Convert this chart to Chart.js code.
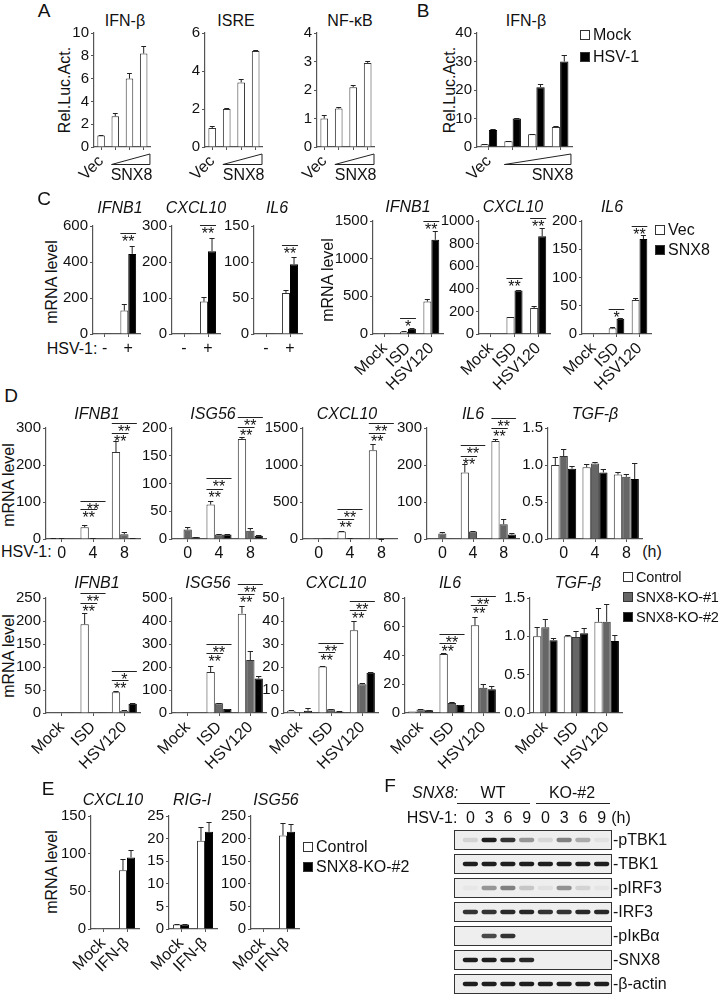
<!DOCTYPE html>
<html>
<head>
<meta charset="utf-8">
<title>SNX8 figure</title>
<script src="https://cdn.jsdelivr.net/npm/chart.js@4.4.1/dist/chart.umd.min.js"></script>
<style>
  body { margin: 0; background: #fff; }
  #fig { position: relative; width: 726px; height: 995px; overflow: hidden;
         font-family: 'Liberation Sans', Arial, sans-serif; color: #111; }
  #fig canvas { position: absolute; }
  .lbl { position: absolute; white-space: nowrap; line-height: 1; }
  .key { position: absolute; width: 10px; height: 10px; box-sizing: border-box; border: 1px solid #333; }
  .rule { position: absolute; height: 0; border-top: 1px solid #222; }
  .blot { position: absolute; box-sizing: border-box; border: 1px solid #333; background: #eeeeee; overflow: hidden; }
  .blot canvas { left: 0; top: 0; filter: blur(0.6px); }
</style>
</head>
<body>
<div id="fig"></div>
<script>
// ---------- data ----------
// A: luciferase, increasing SNX8
const doseLabels = ['Vec', '', '', ''];
const aIfnb = [1.0, 2.7, 6.0, 8.2];
const aIfnbErr = [0.05, 0.25, 0.45, 0.65];
const aIsre = [1.0, 2.0, 3.4, 5.05];
const aIsreErr = [0.08, 0.03, 0.2, 0.06];
const aNfkb = [1.0, 1.35, 2.1, 2.95];
const aNfkbErr = [0.12, 0.04, 0.06, 0.06];

// B: IFN-beta reporter, mock vs HSV-1
const bMock = [1, 2, 4.5, 7];
const bMockErr = [0.1, 0.1, 0.1, 0.3];
const bHsv = [6, 10, 21, 30];
const bHsvErr = [0.2, 0.2, 1.0, 2.4];

// C: qPCR, Vec vs SNX8
const hsvLabels = ['-', '+'];
const stimLabels = ['Mock', 'ISD', 'HSV120'];
const cIfnbVec = [1, 130], cIfnbVecErr = [0, 35];
const cIfnbSnx = [2, 445], cIfnbSnxErr = [0, 45];
const cCxclVec = [1, 90], cCxclVecErr = [0, 12];
const cCxclSnx = [1, 230], cCxclSnxErr = [0, 38];
const cIl6Vec = [1, 57], cIl6VecErr = [0, 4];
const cIl6Snx = [1, 97], cIl6SnxErr = [0, 10];
const cStimIfnbVec = [2, 30, 430], cStimIfnbVecErr = [0, 6, 40];
const cStimIfnbSnx = [3, 70, 1250], cStimIfnbSnxErr = [0, 6, 120];
const cStimCxclVec = [3, 150, 230], cStimCxclVecErr = [0, 3, 15];
const cStimCxclSnx = [5, 385, 865], cStimCxclSnxErr = [0, 8, 70];
const cStimIl6Vec = [1, 10, 60], cStimIl6VecErr = [0, 3, 3];
const cStimIl6Snx = [1, 27, 168], cStimIl6SnxErr = [0, 2, 8];

// D: Control / SNX8-KO-#1 / SNX8-KO-#2
const timeLabels = ['0', '4', '8'];
const dIfnbCtl = [1, 32, 235], dIfnbCtlErr = [0.5, 5, 30];
const dIfnbKo1 = [2, 2, 13], dIfnbKo1Err = [1, 0.5, 5];
const dIfnbKo2 = [0.5, 0.5, 2], dIfnbKo2Err = [0, 0, 0.5];
const dIsgCtl = [1, 62, 180], dIsgCtlErr = [0, 7, 3];
const dIsgKo1 = [17, 8, 15], dIsgKo1Err = [4, 1, 5];
const dIsgKo2 = [3, 8, 6], dIsgKo2Err = [0.5, 0.5, 1];
const dCxclCtl = [2, 100, 1200], dCxclCtlErr = [0, 10, 80];
const dCxclKo1 = [1, 12, 5], dCxclKo1Err = [0, 3, 1];
const dCxclKo2 = [1, 3, 3], dCxclKo2Err = [0, 0, 0];
const dIl6Ctl = [1, 180, 265], dIl6CtlErr = [0, 22, 5];
const dIl6Ko1 = [15, 20, 40], dIl6Ko1Err = [5, 2, 15];
const dIl6Ko2 = [1, 1, 12], dIl6Ko2Err = [0, 0, 4];
const dTgfCtl = [1.0, 0.97, 0.87], dTgfCtlErr = [0.11, 0.05, 0.03];
const dTgfKo1 = [1.12, 1.02, 0.84], dTgfKo1Err = [0.1, 0.02, 0.04];
const dTgfKo2 = [0.95, 0.9, 0.81], dTgfKo2Err = [0.03, 0.04, 0.22];

const sIfnbCtl = [1, 193, 45], sIfnbCtlErr = [0, 25, 3];
const sIfnbKo1 = [0.5, 1, 5], sIfnbKo1Err = [0, 0, 0.5];
const sIfnbKo2 = [0.5, 0.5, 20], sIfnbKo2Err = [0, 0, 1];
const sIsgCtl = [1, 178, 432], sIsgCtlErr = [0, 25, 35];
const sIsgKo1 = [2, 42, 230], sIsgKo1Err = [0, 3, 38];
const sIsgKo2 = [2, 17, 150], sIsgKo2Err = [0, 1, 12];
const sCxclCtl = [1, 20.2, 36], sCxclCtlErr = [0.3, 0.2, 4.2];
const sCxclKo1 = [0.2, 1.6, 12.5], sCxclKo1Err = [0, 0.2, 0.7];
const sCxclKo2 = [1, 0.7, 17.5], sCxclKo2Err = [1, 0.2, 0.5];
const sIl6Ctl = [1, 41, 61], sIl6CtlErr = [0, 0.5, 5.5];
const sIl6Ko1 = [2.5, 7, 17.5], sIl6Ko1Err = [0.3, 0.5, 3];
const sIl6Ko2 = [2, 5.5, 16.5], sIl6Ko2Err = [0.2, 0.3, 2];
const sTgfCtl = [1.0, 1.0, 1.19], sTgfCtlErr = [0.12, 0.02, 0.18];
const sTgfKo1 = [1.12, 0.99, 1.19], sTgfKo1Err = [0.1, 0.08, 0.23];
const sTgfKo2 = [0.95, 1.04, 0.94], sTgfKo2Err = [0.03, 0.07, 0.08];

// E: IFN-beta treatment
const ifnLabels = ['Mock', 'IFN-β'];
const eCxclCtl = [1, 78], eCxclCtlErr = [0, 15];
const eCxclKo2 = [0.5, 95], eCxclKo2Err = [0, 10];
const eRigCtl = [1, 19.5], eRigCtlErr = [0.05, 3];
const eRigKo2 = [1, 21.5], eRigKo2Err = [0.05, 2.2];
const eIsgCtl = [1, 207], eIsgCtlErr = [0, 28];
const eIsgKo2 = [0.5, 215], eIsgKo2Err = [0, 18];

// F: western blot, band intensity per lane (0..1)
const lanes = ['0', '3', '6', '9', '0', '3', '6', '9'];
const blotNames = ['pTBK1', 'TBK1', 'pIRF3', 'IRF3', 'pIκBα', 'SNX8', 'β-actin'];
const pTbk1 = [0.12, 0.95, 0.85, 0.4, 0.1, 0.5, 0.3, 0.05];
const tbk1 = [0.95, 0.95, 0.95, 0.95, 0.95, 0.95, 0.95, 0.95];
const pIrf3 = [0.03, 0.4, 0.5, 0.18, 0.06, 0.42, 0.12, 0.04];
const irf3 = [0.85, 0.85, 0.9, 0.9, 0.85, 0.85, 0.9, 0.9];
const pIkba = [0, 0.75, 0.85, 0, 0, 0, 0, 0];
const snx8Band = [0.95, 0.95, 0.95, 0.9, 0, 0, 0, 0];
const actin = [0.95, 0.95, 0.95, 0.95, 0.95, 0.95, 0.95, 0.95];
const blotRows = [pTbk1, tbk1, pIrf3, irf3, pIkba, snx8Band, actin];

// ---------- helpers ----------
const FONT = "'Liberation Sans', Arial, sans-serif";
const AX = '#555';
const WHITE = '#ffffff', GRAY = '#666666', BLACK = '#000000';
const fig = document.getElementById('fig');
Chart.defaults.font.family = FONT;
Chart.defaults.color = '#111';

function put(text, x, y, o = {}) {
    const d = document.createElement('div');
    d.className = 'lbl';
    d.textContent = text;
    d.style.left = x + 'px';
    d.style.top = y + 'px';
    d.style.fontSize = (o.size || 16) + 'px';
    if (o.it) d.style.fontStyle = 'italic';
    if (o.ls) d.style.letterSpacing = o.ls + 'px';
    const ax = o.align === 'left' ? '0' : o.align === 'right' ? '-100%' : '-50%';
    d.style.transform = `translate(${ax},-50%)` + (o.rot ? ` rotate(${o.rot}deg)` : '');
    fig.appendChild(d);
}

function key(x, y, color, text, size) {
    const s = document.createElement('div');
    s.className = 'key';
    s.style.left = x + 'px';
    s.style.top = (y - 5) + 'px';
    s.style.background = color;
    fig.appendChild(s);
    put(text, x + 13, y, { align: 'left', size: size || 16, ls: size ? -0.2 : 0 });
}

function rule(x1, x2, y) {
    const r = document.createElement('div');
    r.className = 'rule';
    r.style.left = x1 + 'px';
    r.style.top = y + 'px';
    r.style.width = (x2 - x1) + 'px';
    fig.appendChild(r);
}

function ds(v, e, color) {
    return { data: v, err: e, backgroundColor: color, borderColor: color === BLACK ? '#000' : '#333', borderWidth: 1 };
}

// bar chart whose plot area is exactly x..r horizontally and top..base vertically
function bars(s) {
    const yw = 46, padTop = 16, padR = 6, xh = s.xh || 22;
    const cv = document.createElement('canvas');
    cv.width = yw + (s.r - s.x) + padR;
    cv.height = padTop + (s.base - s.top) + xh;
    cv.style.left = (s.x - yw) + 'px';
    cv.style.top = (s.top - padTop) + 'px';
    fig.appendChild(cv);
    const rot = s.rot || 0;

    const marks = {
        id: 'marks',
        afterDraw(chart) {
            const ctx = chart.ctx, y = chart.scales.y;
            ctx.save();
            ctx.strokeStyle = '#222';
            ctx.fillStyle = '#111';
            ctx.lineWidth = 1;
            // upper error bars
            chart.data.datasets.forEach((d, i) => {
                chart.getDatasetMeta(i).data.forEach((bar, j) => {
                    const e = d.err[j];
                    if (!e) return;
                    const y0 = y.getPixelForValue(d.data[j]);
                    const y1 = Math.round(y.getPixelForValue(d.data[j] + e)) + 0.5;
                    const w = bar.width * 0.32;
                    ctx.beginPath();
                    ctx.moveTo(bar.x, y0);
                    ctx.lineTo(bar.x, y1);
                    ctx.moveTo(bar.x - w, y1);
                    ctx.lineTo(bar.x + w, y1);
                    ctx.stroke();
                });
            });
            // significance lines, stars underneath
            ctx.font = '16px ' + FONT;
            ctx.textAlign = 'center';
            ctx.textBaseline = 'top';
            (s.sig || []).forEach(([g, a, b, v, t]) => {
                const ba = chart.getDatasetMeta(a).data[g];
                const bb = chart.getDatasetMeta(b).data[g];
                const x1 = ba.x - ba.width / 2, x2 = bb.x + bb.width / 2;
                const py = Math.round(y.getPixelForValue(v)) + 0.5;
                ctx.beginPath();
                ctx.moveTo(x1, py);
                ctx.lineTo(x2, py);
                ctx.stroke();
                ctx.fillText(t, (x1 + x2) / 2, py + 1);
            });
            // dose wedge under categories 1..n
            if (s.wedge) {
                const n = chart.data.labels.length;
                const first = chart.getDatasetMeta(0).data[1];
                const last = chart.getDatasetMeta(chart.data.datasets.length - 1).data[n - 1];
                const x1 = first.x - first.width / 2, x2 = last.x + last.width / 2 + 2;
                const yb = y.getPixelForValue(0);
                ctx.beginPath();
                ctx.moveTo(x1, yb + 17.5);
                ctx.lineTo(x2 + 0.5, yb + 17.5);
                ctx.lineTo(x2 + 0.5, yb + 7);
                ctx.closePath();
                ctx.stroke();
                ctx.textAlign = 'right';
                ctx.textBaseline = 'middle';
                ctx.fillText(s.wedge, x2 + 3, yb + 29);
            }
            ctx.restore();
        }
    };

    return new Chart(cv, {
        type: 'bar',
        data: {
            labels: s.labels,
            datasets: s.sets.map(d => Object.assign(d, { barPercentage: 1, categoryPercentage: s.cp || 0.7 }))
        },
        options: {
            responsive: false,
            animation: false,
            events: [],
            layout: { padding: { top: padTop, right: padR, left: 0, bottom: 0 } },
            plugins: { legend: { display: false }, tooltip: { enabled: false } },
            scales: {
                x: {
                    grid: { drawOnChartArea: false, offset: false, tickLength: 3, color: AX },
                    border: { color: AX, width: 1.2 },
                    ticks: { font: { size: 16 }, maxRotation: rot, minRotation: rot, autoSkip: false, padding: 2 },
                    afterFit: sc => { sc.height = xh; }
                },
                y: {
                    min: 0,
                    max: s.max,
                    grid: { drawOnChartArea: false, tickLength: 3, color: AX },
                    border: { color: AX, width: 1.2 },
                    ticks: { stepSize: s.step, font: { size: 15 }, padding: 2,
                             callback: v => s.fmt ? v.toFixed(1) : v },
                    afterFit: sc => { sc.width = yw; }
                }
            }
        },
        plugins: [marks]
    });
}

// ---------- panel A ----------
put('A', 44, 10, { size: 19 });
put('IFN-β', 125, 21);
put('ISRE', 236, 21);
put('NF-κB', 350, 21);
put('Rel.Luc.Act.', 65, 90, { rot: -90 });
bars({ x: 94, r: 154, top: 33, base: 147, max: 10, step: 2, labels: doseLabels, cp: 0.53, rot: 45, xh: 42, wedge: 'SNX8',
       sets: [ds(aIfnb, aIfnbErr, WHITE)] });
bars({ x: 205, r: 266, top: 33, base: 147, max: 6, step: 2, labels: doseLabels, cp: 0.53, rot: 45, xh: 42, wedge: 'SNX8',
       sets: [ds(aIsre, aIsreErr, WHITE)] });
bars({ x: 317, r: 378, top: 33, base: 147, max: 4, step: 1, labels: doseLabels, cp: 0.53, rot: 45, xh: 42, wedge: 'SNX8',
       sets: [ds(aNfkb, aNfkbErr, WHITE)] });

// ---------- panel B ----------
put('B', 423, 10, { size: 19 });
put('IFN-β', 526, 21);
put('Rel.Luc.Act.', 450, 90, { rot: -90 });
bars({ x: 477, r: 572, top: 33, base: 147, max: 40, step: 10, labels: doseLabels, cp: 0.7, rot: 45, xh: 42, wedge: 'SNX8',
       sets: [ds(bMock, bMockErr, WHITE), ds(bHsv, bHsvErr, BLACK)] });
key(580, 35, WHITE, 'Mock');
key(580, 57, BLACK, 'HSV-1');

// ---------- panel C ----------
put('C', 44, 198, { size: 19 });
put('IFNB1', 120, 208, { it: true });
put('CXCL10', 196, 208, { it: true });
put('IL6', 277, 208, { it: true });
put('mRNA level', 52, 282, { rot: -90 });
put('HSV-1:', 72, 349);
bars({ x: 93, r: 140, top: 226, base: 334, max: 600, step: 200, labels: hsvLabels, cp: 0.67,
       sets: [ds(cIfnbVec, cIfnbVecErr, WHITE), ds(cIfnbSnx, cIfnbSnxErr, BLACK)], sig: [[1, 0, 1, 561, '**']] });
bars({ x: 172, r: 220, top: 226, base: 334, max: 300, step: 100, labels: hsvLabels, cp: 0.67,
       sets: [ds(cCxclVec, cCxclVecErr, WHITE), ds(cCxclSnx, cCxclSnxErr, BLACK)], sig: [[1, 0, 1, 303, '**']] });
bars({ x: 254, r: 302, top: 226, base: 334, max: 150, step: 50, labels: hsvLabels, cp: 0.67,
       sets: [ds(cIl6Vec, cIl6VecErr, WHITE), ds(cIl6Snx, cIl6SnxErr, BLACK)], sig: [[1, 0, 1, 124, '**']] });

put('IFNB1', 408, 207, { it: true });
put('CXCL10', 513, 207, { it: true });
put('IL6', 612, 207, { it: true });
put('mRNA level', 328, 280, { rot: -90 });
bars({ x: 373, r: 443, top: 221, base: 334, max: 1500, step: 500, labels: stimLabels, cp: 0.68, rot: 45, xh: 64,
       sets: [ds(cStimIfnbVec, cStimIfnbVecErr, WHITE), ds(cStimIfnbSnx, cStimIfnbSnxErr, BLACK)],
       sig: [[1, 0, 1, 212, '*'], [2, 0, 1, 1500, '**']] });
bars({ x: 479, r: 550, top: 221, base: 334, max: 1000, step: 200, labels: stimLabels, cp: 0.68, rot: 45, xh: 64,
       sets: [ds(cStimCxclVec, cStimCxclVecErr, WHITE), ds(cStimCxclSnx, cStimCxclSnxErr, BLACK)],
       sig: [[1, 0, 1, 496, '**'], [2, 0, 1, 1026, '**']] });
bars({ x: 582, r: 651, top: 221, base: 334, max: 200, step: 50, labels: stimLabels, cp: 0.68, rot: 45, xh: 64,
       sets: [ds(cStimIl6Vec, cStimIl6VecErr, WHITE), ds(cStimIl6Snx, cStimIl6SnxErr, BLACK)],
       sig: [[1, 0, 1, 44, '*'], [2, 0, 1, 191, '**']] });
key(655, 230, WHITE, 'Vec');
key(655, 250, BLACK, 'SNX8');

// ---------- panel D ----------
put('D', 11, 395, { size: 19 });
put('IFNB1', 97, 414, { it: true });
put('ISG56', 213, 414, { it: true });
put('CXCL10', 347, 414, { it: true });
put('IL6', 473, 414, { it: true });
put('TGF-β', 595, 414, { it: true });
put('mRNA level', 9, 485, { rot: -90 });
put('HSV-1:', 1, 552, { align: 'left' });
put('(h)', 652, 552);
bars({ x: 46, r: 140, top: 428, base: 539, max: 300, step: 100, labels: timeLabels, cp: 0.8,
       sets: [ds(dIfnbCtl, dIfnbCtlErr, WHITE), ds(dIfnbKo1, dIfnbKo1Err, GRAY), ds(dIfnbKo2, dIfnbKo2Err, BLACK)],
       sig: [[1, 0, 2, 103, '**'], [1, 0, 1, 81, '**'], [2, 0, 2, 313, '**'], [2, 0, 1, 286, '**']] });
bars({ x: 172, r: 266, top: 428, base: 539, max: 200, step: 50, labels: timeLabels, cp: 0.8,
       sets: [ds(dIsgCtl, dIsgCtlErr, WHITE), ds(dIsgKo1, dIsgKo1Err, GRAY), ds(dIsgKo2, dIsgKo2Err, BLACK)],
       sig: [[1, 0, 2, 110, '**'], [1, 0, 1, 90, '**'], [2, 0, 2, 220, '**'], [2, 0, 1, 202, '**']] });
bars({ x: 303, r: 397, top: 428, base: 539, max: 1500, step: 500, labels: timeLabels, cp: 0.8,
       sets: [ds(dCxclCtl, dCxclCtlErr, WHITE), ds(dCxclKo1, dCxclKo1Err, GRAY), ds(dCxclKo2, dCxclKo2Err, BLACK)],
       sig: [[1, 0, 2, 405, '**'], [1, 0, 1, 270, '**'], [2, 0, 2, 1568, '**'], [2, 0, 1, 1432, '**']] });
bars({ x: 427, r: 519, top: 428, base: 539, max: 300, step: 100, labels: timeLabels, cp: 0.8,
       sets: [ds(dIl6Ctl, dIl6CtlErr, WHITE), ds(dIl6Ko1, dIl6Ko1Err, GRAY), ds(dIl6Ko2, dIl6Ko2Err, BLACK)],
       sig: [[1, 0, 2, 254, '**'], [1, 0, 1, 224, '**'], [2, 0, 2, 327, '**'], [2, 0, 1, 300, '**']] });
bars({ x: 548, r: 642, top: 428, base: 539, max: 1.5, step: 0.5, fmt: true, labels: timeLabels, cp: 0.8,
       sets: [ds(dTgfCtl, dTgfCtlErr, WHITE), ds(dTgfKo1, dTgfKo1Err, GRAY), ds(dTgfKo2, dTgfKo2Err, BLACK)] });

put('IFNB1', 97, 583, { it: true });
put('ISG56', 208, 583, { it: true });
put('CXCL10', 336, 583, { it: true });
put('IL6', 450, 583, { it: true });
put('TGF-β', 578, 583, { it: true });
put('mRNA level', 9, 656, { rot: -90 });
bars({ x: 46, r: 140, top: 598, base: 713, max: 250, step: 50, labels: stimLabels, cp: 0.8, rot: 45, xh: 64,
       sets: [ds(sIfnbCtl, sIfnbCtlErr, WHITE), ds(sIfnbKo1, sIfnbKo1Err, GRAY), ds(sIfnbKo2, sIfnbKo2Err, BLACK)],
       sig: [[1, 0, 2, 261, '**'], [1, 0, 1, 239, '**'], [2, 0, 2, 91, '*'], [2, 0, 1, 72, '**']] });
bars({ x: 172, r: 266, top: 598, base: 713, max: 500, step: 100, labels: stimLabels, cp: 0.8, rot: 45, xh: 64,
       sets: [ds(sIsgCtl, sIsgCtlErr, WHITE), ds(sIsgKo1, sIsgKo1Err, GRAY), ds(sIsgKo2, sIsgKo2Err, BLACK)],
       sig: [[1, 0, 2, 300, '**'], [1, 0, 1, 261, '**'], [2, 0, 2, 561, '**'], [2, 0, 1, 517, '**']] });
bars({ x: 284, r: 378, top: 598, base: 713, max: 50, step: 10, labels: stimLabels, cp: 0.8, rot: 45, xh: 64,
       sets: [ds(sCxclCtl, sCxclCtlErr, WHITE), ds(sCxclKo1, sCxclKo1Err, GRAY), ds(sCxclKo2, sCxclKo2Err, BLACK)],
       sig: [[1, 0, 2, 30.5, '**'], [1, 0, 1, 26.5, '**'], [2, 0, 2, 48.7, '**'], [2, 0, 1, 44.8, '**']] });
bars({ x: 405, r: 499, top: 598, base: 713, max: 80, step: 20, labels: stimLabels, cp: 0.8, rot: 45, xh: 64,
       sets: [ds(sIl6Ctl, sIl6CtlErr, WHITE), ds(sIl6Ko1, sIl6Ko1Err, GRAY), ds(sIl6Ko2, sIl6Ko2Err, BLACK)],
       sig: [[1, 0, 2, 55, '**'], [1, 0, 1, 48.7, '**'], [2, 0, 2, 81.4, '**'], [2, 0, 1, 75, '**']] });
bars({ x: 530, r: 622, top: 598, base: 713, max: 1.5, step: 0.5, fmt: true, labels: stimLabels, cp: 0.8, rot: 45, xh: 64,
       sets: [ds(sTgfCtl, sTgfCtlErr, WHITE), ds(sTgfKo1, sTgfKo1Err, GRAY), ds(sTgfKo2, sTgfKo2Err, BLACK)] });
key(623, 577, WHITE, 'Control', 14.5);
key(623, 597, GRAY, 'SNX8-KO-#1', 14.5);
key(623, 617, BLACK, 'SNX8-KO-#2', 14.5);

// ---------- panel E ----------
put('E', 48, 788, { size: 19 });
put('CXCL10', 113, 800, { it: true });
put('RIG-I', 192, 800, { it: true });
put('ISG56', 276, 800, { it: true });
put('mRNA level', 52, 872, { rot: -90 });
bars({ x: 91, r: 139, top: 816, base: 929, max: 150, step: 50, labels: ifnLabels, cp: 0.67, rot: 45, xh: 64,
       sets: [ds(eCxclCtl, eCxclCtlErr, WHITE), ds(eCxclKo2, eCxclKo2Err, BLACK)] });
bars({ x: 169, r: 217, top: 816, base: 929, max: 25, step: 5, labels: ifnLabels, cp: 0.67, rot: 45, xh: 64,
       sets: [ds(eRigCtl, eRigCtlErr, WHITE), ds(eRigKo2, eRigKo2Err, BLACK)] });
bars({ x: 251, r: 299, top: 816, base: 929, max: 250, step: 50, labels: ifnLabels, cp: 0.67, rot: 45, xh: 64,
       sets: [ds(eIsgCtl, eIsgCtlErr, WHITE), ds(eIsgKo2, eIsgKo2Err, BLACK)] });
key(303, 847, WHITE, 'Control');
key(303, 867, BLACK, 'SNX8-KO-#2');

// ---------- panel F (blot) ----------
put('F', 390, 785, { size: 19 });
put('SNX8:', 412, 793, { it: true, align: 'left' });
put('WT', 493, 793);
put('KO-#2', 572, 793);
rule(457, 530, 803);
rule(536, 610, 803);
put('HSV-1:', 432, 818);
put('(h)', 621, 818);

const BX = 454, BW = 158, BH = 20;
blotRows.forEach((row, i) => {
    const top = 830 + i * 24;
    const box = document.createElement('div');
    box.className = 'blot';
    box.style.left = BX + 'px';
    box.style.top = top + 'px';
    box.style.width = BW + 'px';
    box.style.height = BH + 'px';
    fig.appendChild(box);
    const cv = document.createElement('canvas');
    cv.width = BW - 2;
    cv.height = BH - 2;
    box.appendChild(cv);
    const ch = new Chart(cv, {
        type: 'bar',
        data: {
            labels: lanes,
            datasets: [{
                data: row.map(() => [0.38, 0.62]),
                backgroundColor: row.map(a => `rgba(18,18,18,${a})`),
                borderWidth: 0,
                borderRadius: 3,
                borderSkipped: false,
                barPercentage: 0.82,
                categoryPercentage: 1
            }]
        },
        options: {
            responsive: false,
            animation: false,
            events: [],
            layout: { padding: { left: 6, right: 0, top: 0, bottom: 0 } },
            plugins: { legend: { display: false }, tooltip: { enabled: false } },
            scales: { x: { display: false }, y: { display: false, min: 0, max: 1 } }
        }
    });
    put('-' + blotNames[i], BX + BW + 1, top + BH / 2, { align: 'left' });
    if (i === 0) {
        ch.getDatasetMeta(0).data.forEach((bar, j) => put(lanes[j], BX + 1 + bar.x, 818));
    }
});
</script>
</body>
</html>
